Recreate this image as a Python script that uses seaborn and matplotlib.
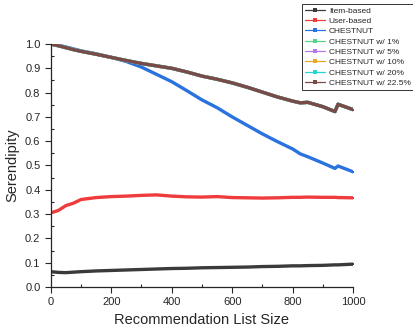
import numpy as np
import pandas as pd
import matplotlib
matplotlib.use("Agg")
import matplotlib.pyplot as plt
import seaborn as sns
from matplotlib.ticker import MultipleLocator

# --- values (approximate) ---
list_size = [0, 25, 50, 75, 100, 150, 200, 250, 300, 350, 400, 450, 500, 550,
             600, 650, 700, 750, 800, 825, 850, 900, 940, 950, 1000]

item_based = [0.063, 0.060, 0.059, 0.061, 0.063, 0.066, 0.068, 0.070, 0.072, 0.074,
              0.076, 0.077, 0.079, 0.080, 0.081, 0.082, 0.084, 0.085, 0.087, 0.087,
              0.088, 0.089, 0.091, 0.091, 0.094]

user_based = [0.305, 0.315, 0.335, 0.345, 0.360, 0.368, 0.372, 0.374, 0.377, 0.379,
              0.374, 0.371, 0.370, 0.372, 0.368, 0.367, 0.366, 0.367, 0.369, 0.369,
              0.370, 0.369, 0.369, 0.368, 0.367]

chestnut = [1.000, 0.995, 0.988, 0.980, 0.972, 0.960, 0.945, 0.928, 0.905, 0.875,
            0.845, 0.808, 0.770, 0.738, 0.700, 0.665, 0.630, 0.598, 0.568, 0.548,
            0.536, 0.510, 0.488, 0.498, 0.474]

chestnut_225 = [1.000, 0.993, 0.985, 0.977, 0.970, 0.958, 0.945, 0.932, 0.920, 0.910,
                0.900, 0.885, 0.868, 0.855, 0.840, 0.822, 0.802, 0.782, 0.765, 0.758,
                0.760, 0.742, 0.722, 0.752, 0.730]

# the other CHESTNUT variants sit under the 22.5% curve
series = {
    "Item-based": item_based,
    "User-based": user_based,
    "CHESTNUT": chestnut,
    "CHESTNUT w/ 1%": chestnut_225,
    "CHESTNUT w/ 5%": chestnut_225,
    "CHESTNUT w/ 10%": chestnut_225,
    "CHESTNUT w/ 20%": chestnut_225,
    "CHESTNUT w/ 22.5%": chestnut_225,
}
colors = ["#3a3a3a", "#ef3b3b", "#2a72de", "#55d38a", "#b27ae8",
          "#e6a826", "#28d4d4", "#7a4a48"]

df = pd.DataFrame({"size": list_size, **series})
long = df.melt(id_vars="size", var_name="method", value_name="serendipity")

sns.set_style("ticks")
plt.rcParams["font.family"] = ["Liberation Sans", "DejaVu Sans"]

fig = plt.figure(figsize=(4.13, 3.31), dpi=100)
ax = fig.add_axes([0.123, 0.133, 0.732, 0.734])

sns.lineplot(data=long, x="size", y="serendipity", hue="method",
             palette=colors, hue_order=list(series.keys()), ax=ax,
             linewidth=2.4, marker="s", markersize=2, markeredgewidth=0)

ax.set_xlim(0, 1000)
ax.set_ylim(0, 1.0)
ax.xaxis.set_major_locator(MultipleLocator(200))
ax.xaxis.set_minor_locator(MultipleLocator(100))
ax.yaxis.set_major_locator(MultipleLocator(0.1))
ax.yaxis.set_minor_locator(MultipleLocator(0.05))
ax.yaxis.set_major_formatter(matplotlib.ticker.FormatStrFormatter("%.1f"))
ax.tick_params(which="major", direction="out", length=4, width=0.8, labelsize=8)
ax.tick_params(which="minor", direction="in", length=2.5, width=0.8)
for s in ["top", "right"]:
    ax.spines[s].set_visible(False)
for s in ["left", "bottom"]:
    ax.spines[s].set_linewidth(0.9)

ax.set_xlabel("Recommendation List Size", fontsize=10.5)
ax.set_ylabel("Serendipity", fontsize=10.5)

leg = ax.legend(loc="upper left", bbox_to_anchor=(0.83, 1.165), fontsize=6.0,
                frameon=True, fancybox=False, edgecolor="black",
                handlelength=2.5, borderpad=0.35, labelspacing=0.3,
                handletextpad=0.4, borderaxespad=0)
leg.get_frame().set_linewidth(0.7)
for line in leg.get_lines():
    line.set_linewidth(0.9)
    line.set_markersize(3)

fig.savefig("out.png", dpi=100)
